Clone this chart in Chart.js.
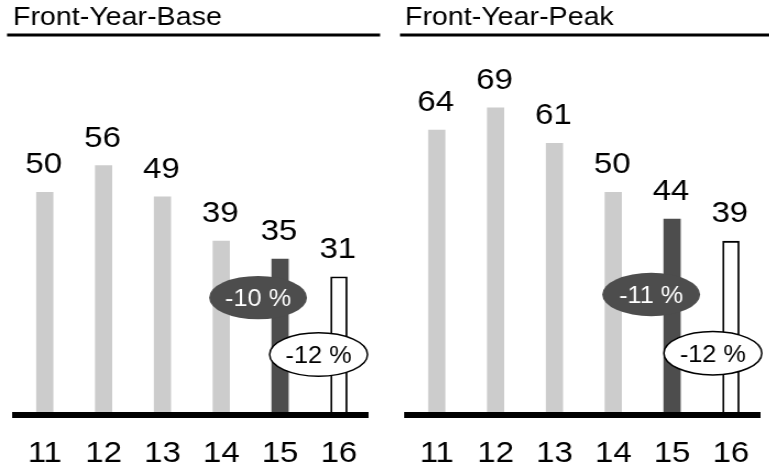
<!DOCTYPE html>
<html>
<head>
<meta charset="utf-8">
<script src="https://cdn.jsdelivr.net/npm/chart.js@4.4.0/dist/chart.umd.min.js"></script>
<style>
  html, body { margin: 0; padding: 0; background: #fff; overflow: hidden; width: 769px; height: 471px; }
  /* the source picture is a bit wider than tall, so each panel is drawn narrow and stretched */
  .panel { position: absolute; top: 0; width: 350px; height: 471px; transform: scaleX(1.1); transform-origin: 0 0; }
  #left { left: 0; }
  #right { left: 392px; }
</style>
</head>
<body>
<div class="panel" id="left"><canvas id="base"></canvas></div>
<div class="panel" id="right"><canvas id="peak"></canvas></div>
<script>
const years = ['11', '12', '13', '14', '15', '16'];
const baseValues = [50, 56, 49, 39, 35, 31];
const peakValues = [64, 69, 61, 50, 44, 39];
const baseChanges = ['-10 %', '-12 %'];
const peakChanges = ['-11 %', '-12 %'];

const FONT = '"Liberation Sans", Arial, Helvetica, sans-serif';
Chart.defaults.font.family = FONT;
Chart.defaults.color = '#000';

const barColors = ['#cccccc', '#cccccc', '#cccccc', '#cccccc', '#4d4d4d', '#ffffff'];
const barBorders = ['#cccccc', '#cccccc', '#cccccc', '#cccccc', '#4d4d4d', '#000000'];
const barBorderWidths = [0, 0, 0, 0, 0, 1.8];

// numbers above the bars
const valueLabels = {
  id: 'valueLabels',
  afterDatasetsDraw(chart) {
    const { ctx } = chart;
    const meta = chart.getDatasetMeta(0);
    const data = chart.data.datasets[0].data;
    ctx.save();
    ctx.font = `30px ${FONT}`;
    ctx.fillStyle = '#000';
    ctx.textAlign = 'center';
    ctx.textBaseline = 'alphabetic';
    meta.data.forEach((bar, i) => {
      ctx.fillText(String(data[i]), bar.x - 1, bar.y - 19);
    });
    ctx.restore();
  }
};

// rule under the title
const titleRule = {
  id: 'titleRule',
  afterDraw(chart, args, opts) {
    const { ctx } = chart;
    ctx.save();
    ctx.fillStyle = '#000';
    ctx.fillRect(opts.from, 33.5, opts.to - opts.from, 3);
    ctx.restore();
  }
};

// the oval change badges
const badges = {
  id: 'badges',
  afterDatasetsDraw(chart, args, opts) {
    const { ctx, scales: { x, y } } = chart;
    ctx.save();
    opts.items.forEach((b) => {
      const cx = x.getPixelForValue(b.index) + b.dx;
      const cy = y.getPixelForValue(b.value);
      ctx.beginPath();
      ctx.ellipse(cx, cy, 44.5, 21.7, 0, 0, Math.PI * 2);
      ctx.fillStyle = b.dark ? '#4d4d4d' : '#ffffff';
      ctx.fill();
      if (!b.dark) {
        ctx.lineWidth = 1.5;
        ctx.strokeStyle = '#000';
        ctx.stroke();
      }
      ctx.font = `23px ${FONT}`;
      ctx.fillStyle = b.dark ? '#ffffff' : '#000';
      ctx.textAlign = 'center';
      ctx.textBaseline = 'middle';
      ctx.fillText(b.text, cx, cy + 2.5);
    });
    ctx.restore();
  }
};

function makeChart(id, title, values, changes, place, rule) {
  new Chart(document.getElementById(id), {
    type: 'bar',
    data: {
      labels: years,
      datasets: [{
        data: values,
        backgroundColor: barColors,
        borderColor: barBorders,
        borderWidth: barBorderWidths,
        borderSkipped: 'bottom',
        barThickness: 15,
      }],
    },
    options: {
      responsive: true,
      maintainAspectRatio: false,
      animation: false,
      events: [],
      layout: { padding: { left: 11.8, right: 10.9, top: 0, bottom: 0 } },
      scales: {
        x: {
          grid: { display: false, drawTicks: false },
          border: { display: true, color: '#000', width: 6, z: 1 },
          ticks: { color: '#000', font: { size: 30, lineHeight: 1 }, padding: 24.5 },
          afterFit(scale) { scale.height = 56.5; },
        },
        y: { display: false, min: 0, max: 80 },
      },
      plugins: {
        legend: { display: false },
        tooltip: { enabled: false },
        title: {
          display: true,
          text: title,
          align: 'start',
          color: '#000',
          font: { size: 26, weight: 'normal', lineHeight: 1.2 },
          padding: { top: 2, bottom: 25.8 },
        },
        titleRule: rule,
        badges: {
          items: [
            { index: 4, dx: place[0], value: place[1], text: changes[0], dark: true },
            { index: 5, dx: place[2], value: place[3], text: changes[1], dark: false },
          ],
        },
      },
    },
    plugins: [valueLabels, titleRule, badges],
  });
}

makeChart('base', 'Front-Year-Base', baseValues, baseChanges, [-20, 26.3, -18.5, 13.5], { from: 6.4, to: 345.5 });
makeChart('peak', 'Front-Year-Peak', peakValues, peakChanges, [-19, 27.0, -16.4, 13.8], { from: 7.3, to: 350 });
</script>
</body>
</html>
